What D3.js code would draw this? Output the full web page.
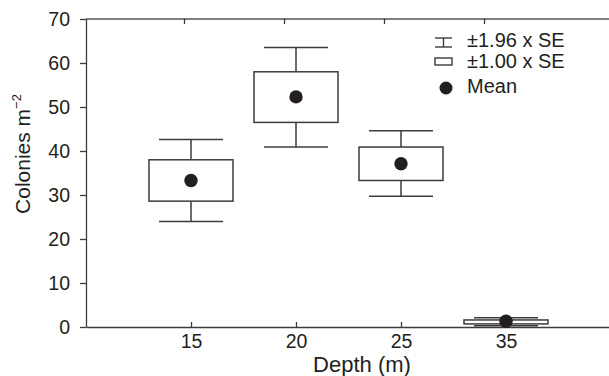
<!DOCTYPE html>
<html>
<head>
<meta charset="utf-8">
<script src="https://cdn.jsdelivr.net/npm/d3@7"></script>
<style>
  body { margin: 0; background: #fff; }
  text { font-family: "Liberation Sans", Arial, sans-serif; fill: #231f20; }
</style>
</head>
<body>
<svg id="chart" width="609" height="376"></svg>
<script>
const depths = ["15", "20", "25", "35"];
const means = [33.3, 52.3, 37.1, 1.3];
const boxLow = [28.6, 46.5, 33.3, 0.7];
const boxHigh = [38.0, 58.0, 40.9, 1.6];
const whiskLow = [24.0, 40.9, 29.7, 0.3];
const whiskHigh = [42.6, 63.5, 44.6, 2.1];
const yTicks = [0, 10, 20, 30, 40, 50, 60, 70];
const legendLabels = ["\u00b11.96 x SE", "\u00b11.00 x SE", "Mean"];

const data = depths.map((d, i) => ({
  depth: d, mean: means[i], lo: boxLow[i], hi: boxHigh[i], wlo: whiskLow[i], whi: whiskHigh[i]
}));

const ink = "#231f20";
const lineCol = "#3c3c3c";

const svg = d3.select("#chart");

const x = d3.scalePoint().domain(depths).range([86, 611]).padding(1);
const xTop = d3.scalePoint().domain(depths).range([84, 584]).padding(1);
const y = d3.scaleLinear().domain([0, 70]).range([327, 19]);

// left axis
const gY = svg.append("g")
  .attr("transform", "translate(86,0)")
  .call(d3.axisLeft(y).tickValues(yTicks).tickSizeInner(6).tickSizeOuter(0).tickPadding(10));
gY.selectAll("text").style("font-size", "19.5px");

// bottom axis, ticks point up
const gX = svg.append("g")
  .attr("transform", "translate(0,327)")
  .call(d3.axisBottom(x).tickSizeInner(-5).tickSizeOuter(0).tickPadding(7));
gX.selectAll("text").style("font-size", "19.5px");

// top frame line with its own ticks
const gT = svg.append("g")
  .attr("transform", "translate(0,19)")
  .call(d3.axisTop(xTop).tickSizeInner(-5).tickSizeOuter(0).tickFormat(""));
gT.select(".domain").remove();
svg.append("line")
  .attr("x1", 86).attr("x2", 609).attr("y1", 19).attr("y2", 19)
  .attr("stroke", "currentColor");

svg.selectAll(".domain, .tick line").attr("stroke", lineCol).attr("stroke-width", 1.3);

// boxes
const boxW = 42, capW = 32;
const g = svg.append("g")
  .attr("fill", "none")
  .attr("stroke", lineCol)
  .attr("stroke-width", 1.5);

const item = g.selectAll("g.item").data(data).join("g").attr("class", "item");

item.append("line")
  .attr("x1", d => x(d.depth)).attr("x2", d => x(d.depth))
  .attr("y1", d => y(d.whi)).attr("y2", d => y(d.hi));
item.append("line")
  .attr("x1", d => x(d.depth)).attr("x2", d => x(d.depth))
  .attr("y1", d => y(d.lo)).attr("y2", d => y(d.wlo));
item.append("line")
  .attr("x1", d => x(d.depth) - capW).attr("x2", d => x(d.depth) + capW)
  .attr("y1", d => y(d.whi)).attr("y2", d => y(d.whi));
item.append("line")
  .attr("x1", d => x(d.depth) - capW).attr("x2", d => x(d.depth) + capW)
  .attr("y1", d => y(d.wlo)).attr("y2", d => y(d.wlo));
item.append("rect")
  .attr("x", d => x(d.depth) - boxW)
  .attr("width", boxW * 2)
  .attr("y", d => y(d.hi))
  .attr("height", d => y(d.lo) - y(d.hi));
item.append("circle")
  .attr("cx", d => x(d.depth))
  .attr("cy", d => y(d.mean))
  .attr("r", 6.7)
  .attr("fill", ink)
  .attr("stroke", "none");

// axis titles
svg.append("text")
  .attr("x", 362).attr("y", 372)
  .attr("text-anchor", "middle")
  .style("font-size", "22px")
  .text("Depth (m)");

const yt = svg.append("text")
  .attr("transform", "translate(30,154) rotate(-90)")
  .attr("text-anchor", "middle")
  .style("font-size", "21px");
yt.append("tspan").text("Colonies m");
yt.append("tspan").attr("dy", -9).style("font-size", "13px").text("\u22122");

// legend
const lg = svg.append("g").attr("stroke", lineCol).attr("stroke-width", 1.4).attr("fill", "none");
lg.append("line").attr("x1", 435).attr("x2", 452).attr("y1", 38).attr("y2", 38);
lg.append("line").attr("x1", 435).attr("x2", 452).attr("y1", 47).attr("y2", 47);
lg.append("line").attr("x1", 443.5).attr("x2", 443.5).attr("y1", 38).attr("y2", 47);
lg.append("rect").attr("x", 435).attr("y", 58).attr("width", 17).attr("height", 7);
svg.append("circle").attr("cx", 446).attr("cy", 88).attr("r", 6.5).attr("fill", ink);

svg.selectAll("text.leg").data(legendLabels).join("text")
  .attr("class", "leg")
  .attr("x", 467)
  .attr("y", (d, i) => [47, 68, 93][i])
  .style("font-size", "20px")
  .text(d => d);
</script>
</body>
</html>
